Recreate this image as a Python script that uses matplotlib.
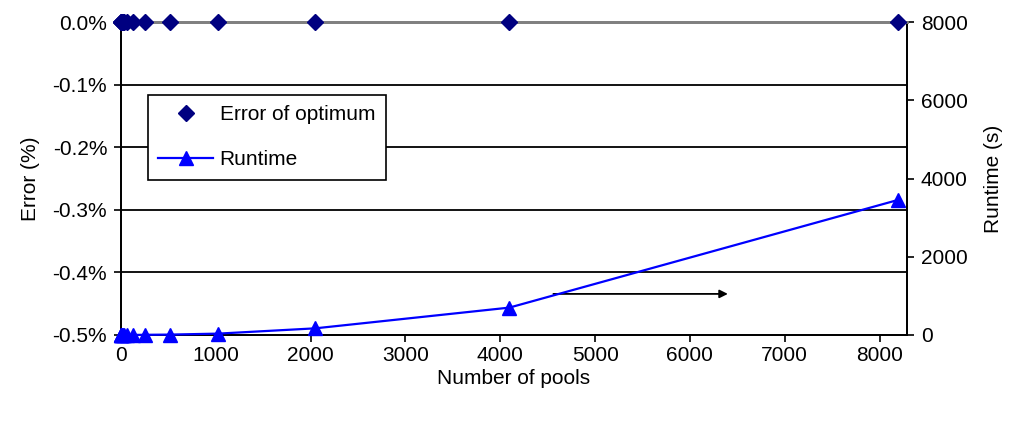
import numpy as np
import matplotlib.pyplot as plt
from matplotlib.ticker import FuncFormatter

plt.rcParams['font.family'] = ['Liberation Sans', 'DejaVu Sans']
plt.rcParams['axes.unicode_minus'] = False

# number of pools tested (powers of two)
pools = [1, 2, 4, 8, 16, 32, 64, 128, 256, 512, 1024, 2048, 4096, 8192]
# error of the optimum, in percent
error = [0.0, 0.0, 0.0, 0.0, 0.0, 0.0, 0.0, 0.0, 0.0, 0.0, 0.0, 0.0, 0.0, 0.0]
# runtime in seconds
runtime = [0, 0, 0, 0, 0, 0, 1, 2, 5, 10, 35, 170, 700, 3450]

arrow_start = (4560, 1050)
arrow_end = (6400, 1050)

fs = 15

fig = plt.figure(figsize=(10.12, 4.21), dpi=100)
ax = fig.add_axes([0.1196, 0.2043, 0.7767, 0.7434])
ax2 = ax.twinx()


def pct(v, pos):
    v = round(v, 1)
    if v == 0:
        v = 0.0
    return '%.1f%%' % v


# left axis: error
ax.set_xlim(0, 8290)
ax.set_ylim(-0.5, 0.0)
ax.set_yticks(np.arange(-0.5, 0.01, 0.1))
ax.yaxis.set_major_formatter(FuncFormatter(pct))
ax.set_xticks(np.arange(0, 8001, 1000))
for y in [-0.4, -0.3, -0.2, -0.1]:
    ax.axhline(y, color='black', lw=1.3, zorder=1)

# right axis: runtime
ax2.set_ylim(0, 8000)
ax2.set_yticks(np.arange(0, 8001, 2000))

for a in (ax, ax2):
    a.tick_params(direction='out', length=5, width=1.2, labelsize=fs, pad=5)
    for s in a.spines.values():
        s.set_linewidth(1.3)
    a.spines['top'].set_color('#808080')
    a.spines['top'].set_linewidth(2)
ax.tick_params(axis='x', pad=3)

h1, = ax2.plot(pools, error, linestyle='none', marker='D', color='#000080',
               markersize=8.5, label='Error of optimum', transform=ax.transData,
               clip_on=False, zorder=5)
h2, = ax2.plot(pools, runtime, '-', color='#0000FF', lw=1.6, marker='^',
               markersize=9.5, label='Runtime', clip_on=False, zorder=4)

ax2.annotate('', xy=arrow_end, xytext=arrow_start,
             arrowprops=dict(arrowstyle='-|>', color='black', lw=1.3,
                             mutation_scale=12, shrinkA=0, shrinkB=0))

ax.set_xlabel('Number of pools', fontsize=fs, labelpad=3)
ax.set_ylabel('Error (%)', fontsize=fs, labelpad=9)
ax2.set_ylabel('Runtime (s)', fontsize=fs, labelpad=12)

leg = ax2.legend(handles=[h1, h2], loc='upper left',
                 bbox_to_anchor=(0.034, 0.768), fontsize=fs, frameon=True,
                 fancybox=False, framealpha=1, edgecolor='black',
                 handlelength=2.65, borderpad=0.5, labelspacing=1.25,
                 handletextpad=0.3, borderaxespad=0)
leg.get_frame().set_linewidth(1.2)

fig.savefig('out.png', dpi=100)
